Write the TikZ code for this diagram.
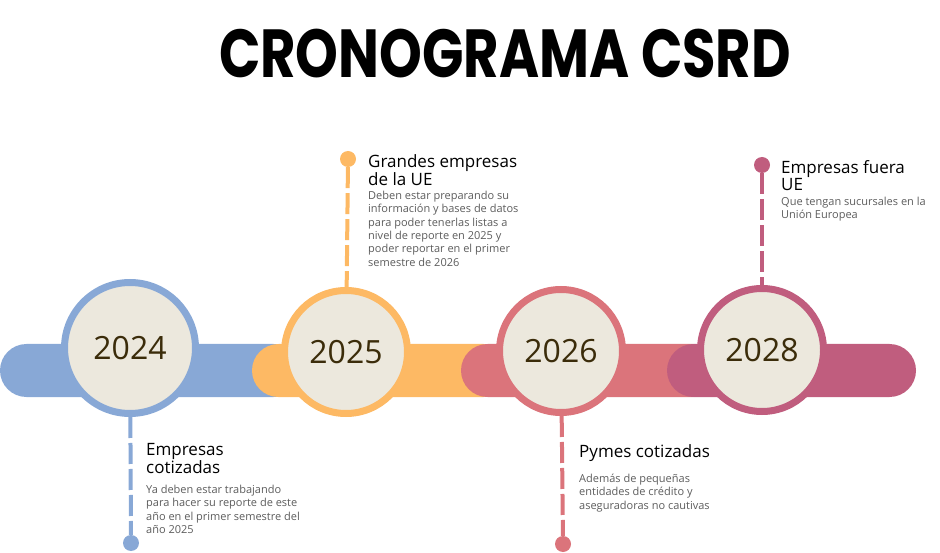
\documentclass[tikz,border=0pt]{standalone}
\usepackage{fontspec}
\setmainfont{Open Sans}
\newfontfamily\titlefont{Poppins}[UprightFont=* Bold]
\definecolor{cblue}{HTML}{88A8D6}
\definecolor{corange}{HTML}{FDB964}
\definecolor{csalmon}{HTML}{DB747B}
\definecolor{cmag}{HTML}{C05D7E}
\definecolor{cfill}{HTML}{ECE8DD}
\definecolor{cyear}{HTML}{3B2C0A}
\definecolor{cbody}{HTML}{5C5C5C}
\tikzset{
  bar/.style={fill=#1, rounded corners=26.5pt},
  yr/.style={circle, draw=#1, line width=7pt, fill=cfill, minimum size=123pt, inner sep=0pt,
    font=\fontsize{32}{32}\selectfont, text=cyear},
  dot/.style={circle, fill=#1, minimum size=16pt, inner sep=0pt},
  conn/.style={draw=#1, line width=4pt, dash pattern=on 21pt off 5pt},
  head/.style={anchor=north west, inner sep=0pt, align=left, text=black,
    font=\fontsize{17}{15}\selectfont},
  body/.style={anchor=north west, inner sep=0pt, align=left, text=cbody,
    font=\fontsize{11}{13.3}\selectfont}
}
\begin{document}
\begin{tikzpicture}[x=1pt,y=-1pt]
\useasboundingbox (0,0) rectangle (940,553);
\node[font=\titlefont\fontsize{68}{68}\selectfont, anchor=base, inner sep=0pt] (title) at (505,78) {\scalebox{0.8}[1]{CRONOGRAMA CSRD}};
% bars
\fill[bar=cblue] (0,344) rectangle (300,397);
\fill[bar=corange] (252,344) rectangle (510,397);
\fill[bar=csalmon] (461,344) rectangle (720,397);
\fill[bar=cmag] (667,344) rectangle (916,397);
% circles
\node[yr=cblue, minimum size=131pt] (c24) at (130,348) {2024};
\node[yr=corange] (c25) at (346,352) {2025};
\node[yr=csalmon] (c26) at (561,351) {2026};
\node[yr=cmag] (c28) at (762,350) {2028};
% dots
\node[dot=cblue] (d24) at (131,543) {};
\node[dot=corange] (d25) at (348,159) {};
\node[dot=csalmon] (d26) at (563,544) {};
\node[dot=cmag] (d28) at (762,165) {};
% connectors
\draw[conn=cblue] (c24) -- (d24);
\draw[conn=corange] (d25) -- (c25);
\draw[conn=csalmon] (c26) -- (d26);
\draw[conn=cmag] (d28) -- (c28);
% texts
\node[head] (h25) at (368,154) {Grandes empresas\\de la UE};
\node[body] (b25) at (368,191) {Deben estar preparando su\\información y bases de datos\\para poder tenerlas listas a\\nivel de reporte en 2025 y\\poder reportar en el primer\\semestre de 2026};
\node[head] (h28) at (781,160) {Empresas fuera\\UE};
\node[body] (b28) at (781,197) {Que tengan sucursales en la\\Unión Europea};
\node[head] (h24) at (146,443) {Empresas\\cotizadas};
\node[body] (b24) at (146,485) {Ya deben estar trabajando\\para hacer su reporte de este\\año en el primer semestre del\\año 2025};
\node[head] (h26) at (579,444) {Pymes cotizadas};
\node[body] (b26) at (579,474) {Además de pequeñas\\entidades de crédito y\\aseguradoras no cautivas};
\end{tikzpicture}
\end{document}
